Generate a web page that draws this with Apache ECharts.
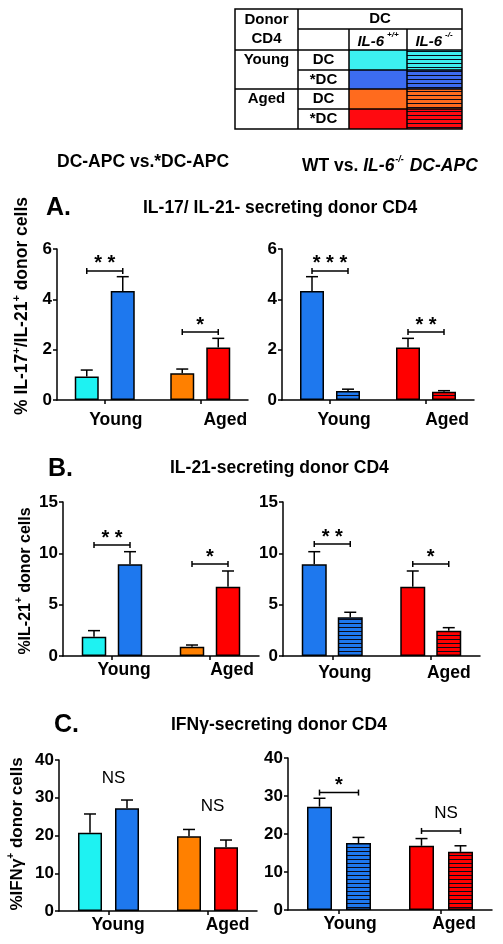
<!DOCTYPE html>
<html><head><meta charset="utf-8">
<script src="https://cdn.jsdelivr.net/npm/echarts@6/dist/echarts.min.js"></script>
<style>html,body{margin:0;padding:0;background:#fff}#c{width:503px;height:944px}</style>
</head><body><div id="c"></div>
<script>
// ---------------- DATA ----------------
const categories = ['Young', 'Aged'];
const yTicksA = [0, 2, 4, 6];
const yTicksB = [0, 5, 10, 15];
const yTicksC = [0, 10, 20, 30, 40];
// A: % IL-17+/IL-21+ donor cells
const aDC = [0.93, 1.06],      aDCsem = [0.26, 0.17];
const aStarDC = [4.33, 2.09],  aStarDCsem = [0.57, 0.36];
const aKO = [0.36, 0.33],      aKOsem = [0.07, 0.04];
// B: % IL-21+ donor cells
const bDC = [1.88, 0.91],      bDCsem = [0.59, 0.16];
const bStarDC = [8.93, 6.75],  bStarDCsem = [1.23, 1.53];
const bKO = [3.77, 2.47],      bKOsem = [0.49, 0.29];
// C: % IFNγ+ donor cells
const cDC = [20.7, 19.8],      cDCsem = [5.0, 1.8];
const cStarDC = [27.2, 16.9],  cStarDCsem = [2.2, 1.9];
const cKO = [17.6, 15.3],      cKOsem = [1.5, 1.6];
// significance labels and bracket levels (data units)
const aSigL = ['* *', '*'],     aSigLlevel = [5.13, 2.70];
const aSigR = ['* * *', '* *'], aSigRlevel = [5.13, 2.70];
const bSigL = ['* *', '*'],     bSigLlevel = [10.81, 8.96];
const bSigR = ['* *', '*'],     bSigRlevel = [10.9, 8.96];
const cSigL = ['NS', 'NS'],     cSigLlevel = [35.2, 27.6];
const cSigR = ['*', 'NS'],      cSigRlevel = [30.9, 20.8];

// ---------------- STYLE ----------------
const FONT = '"Liberation Sans", Arial, Helvetica, sans-serif';
const C_CYAN = '#1EF2F2', C_BLUE = '#1E78EE', C_ORANGE = '#FF8000', C_RED = '#FF0000';
const L_CYAN = '#3CF0F0', L_BLUE = '#3C6CF0', L_ORANGE = '#FF6B1E', L_RED = '#FF0A10';

function stripes(color) {
  const c = document.createElement('canvas');
  c.width = 8; c.height = 4;
  const g = c.getContext('2d');
  g.fillStyle = color; g.fillRect(0, 0, 8, 4);
  g.fillStyle = '#0a0a18'; g.fillRect(0, 3, 8, 1);
  return { image: c, repeat: 'repeat' };
}

const panels = [
  { L: {left:57, top:249, width:191, height:151, barW:24, gap:12, labelOff:[11,25], labelMargin:11}, ticks: yTicksA,
    series: [{vals:aDC, sem:aDCsem, colors:[C_CYAN, C_ORANGE]}, {vals:aStarDC, sem:aStarDCsem, colors:[C_BLUE, C_RED]}],
    sig: {labels:aSigL, levels:aSigLlevel, bracket:[true,true]} },
  { L: {left:282, top:249, width:192, height:151, barW:24, gap:12, labelOff:[14,21], labelMargin:11}, ticks: yTicksA,
    series: [{vals:aStarDC, sem:aStarDCsem, colors:[C_BLUE, C_RED]}, {vals:aKO, sem:aKOsem, colors:[stripes(C_BLUE), stripes(C_RED)]}],
    sig: {labels:aSigR, levels:aSigRlevel, bracket:[true,true]} },
  { L: {left:63, top:502, width:196, height:154, barW:24.5, gap:11.5, labelOff:[12,22], labelMargin:5}, ticks: yTicksB,
    series: [{vals:bDC, sem:bDCsem, colors:[C_CYAN, C_ORANGE]}, {vals:bStarDC, sem:bStarDCsem, colors:[C_BLUE, C_RED]}],
    sig: {labels:bSigL, levels:bSigLlevel, bracket:[true,true]} },
  { L: {left:283, top:502, width:197, height:154, barW:25, gap:11, labelOff:[12.5,18], labelMargin:8}, ticks: yTicksB,
    series: [{vals:bStarDC, sem:bStarDCsem, colors:[C_BLUE, C_RED]}, {vals:bKO, sem:bKOsem, colors:[stripes(C_BLUE), stripes(C_RED)]}],
    sig: {labels:bSigR, levels:bSigRlevel, bracket:[true,true]} },
  { L: {left:59, top:760, width:198, height:151, barW:24, gap:13, labelOff:[9.5,20], labelMargin:5}, ticks: yTicksC,
    series: [{vals:cDC, sem:cDCsem, colors:[C_CYAN, C_ORANGE]}, {vals:cStarDC, sem:cStarDCsem, colors:[C_BLUE, C_RED]}],
    sig: {labels:cSigL, levels:cSigLlevel, bracket:[false,false]} },
  { L: {left:288, top:758, width:204, height:152, barW:25, gap:14, labelOff:[11,13], labelMargin:5}, ticks: yTicksC,
    series: [{vals:cStarDC, sem:cStarDCsem, colors:[C_BLUE, C_RED]}, {vals:cKO, sem:cKOsem, colors:[stripes(C_BLUE), stripes(C_RED)]}],
    sig: {labels:cSigR, levels:cSigRlevel, bracket:[true,true]} },
];

function ln(x1, y1, x2, y2) {
  return {type:'line', shape:{x1, y1, x2, y2}, style:{stroke:'#000', lineWidth:1.5}};
}

const grid = [], xAxis = [], yAxis = [], series = [];
panels.forEach((p, i) => {
  const L = p.L;
  grid.push({left:L.left, top:L.top, width:L.width, height:L.height, containLabel:false, outerBoundsMode:'none'});
  const rich = {};
  L.labelOff.forEach((o, k) => {
    rich['c' + k] = {fontFamily:FONT, fontWeight:'bold', fontSize:17.5, color:'#000', padding:[0,0,0,2*o]};
  });
  xAxis.push({type:'category', gridIndex:i, data:categories, boundaryGap:true,
    axisLine:{show:true, lineStyle:{color:'#000', width:1.5}},
    axisTick:{show:true, alignWithLabel:true, length:4, lineStyle:{color:'#000', width:1.5}},
    splitLine:{show:false},
    axisLabel:{interval:0, margin:L.labelMargin, formatter:(v, idx) => `{c${idx}|${v}}`, rich}});
  const t = p.ticks;
  yAxis.push({type:'value', gridIndex:i, min:t[0], max:t[t.length-1], interval:t[1]-t[0],
    axisLine:{show:true, lineStyle:{color:'#000', width:1.5}},
    axisTick:{show:true, length:4, lineStyle:{color:'#000', width:1.5}},
    splitLine:{show:false},
    axisLabel:{margin:5, color:'#000', fontWeight:'bold', fontSize:17, fontFamily:FONT}});
  p.series.forEach((s, si) => {
    series.push({type:'bar', xAxisIndex:i, yAxisIndex:i, barWidth:L.barW, barGap:(L.gap/L.barW*100)+'%',
      silent:true, z:2,
      itemStyle:{borderColor:'#000', borderWidth:1.5},
      data:s.vals.map((v, k) => ({value:v, itemStyle:{color:s.colors[k]}}))});
    const off = (si === 0 ? -1 : 1) * (L.barW + L.gap) / 2;
    series.push({type:'custom', xAxisIndex:i, yAxisIndex:i, z:5, silent:true,
      data:s.vals.map((v, k) => [k, v, s.sem[k]]),
      renderItem:(params, api) => {
        const b = api.coord([api.value(0), api.value(1)]);
        const tp = api.coord([api.value(0), api.value(1) + api.value(2)]);
        const x = b[0] + off;
        return {type:'group', children:[ln(x, b[1], x, tp[1]), ln(x-6, tp[1], x+6, tp[1])]};
      }});
  });
  const sg = p.sig;
  const off = (L.barW + L.gap) / 2;
  series.push({type:'custom', xAxisIndex:i, yAxisIndex:i, z:6, silent:true,
    data:sg.levels.map((lv, k) => [k, lv]),
    renderItem:(params, api) => {
      const c = api.coord([api.value(0), api.value(1)]);
      const txt = sg.labels[params.dataIndex];
      const ns = txt === 'NS';
      const ch = [];
      let ty = c[1];
      if (sg.bracket[params.dataIndex]) {
        ch.push(ln(c[0]-off, c[1], c[0]+off, c[1]), ln(c[0]-off, c[1]-3, c[0]-off, c[1]+3), ln(c[0]+off, c[1]-3, c[0]+off, c[1]+3));
        ty = c[1] - (ns ? 18 : 7);
      }
      ch.push({type:'text', x:c[0] + (ns ? 5 : 0), y:ty,
        style:{text:txt, fill:'#000', align:'center', verticalAlign:'middle', fontFamily:FONT,
               fontSize:ns ? 17 : 20, fontWeight:ns ? 'normal' : 'bold'}});
      return {type:'group', children:ch};
    }});
});

// ---------------- GRAPHIC TEXT & LEGEND TABLE ----------------
const gfx = [];
function txt(x, y, text, opts) {
  gfx.push(Object.assign({type:'text', x, y, silent:true,
    style:Object.assign({text, fill:'#000', fontFamily:FONT, fontWeight:'bold', fontSize:17.5, align:'left', verticalAlign:'middle'}, opts && opts.style)},
    opts && opts.el));
}
const supStyle = {fontFamily:FONT, fontWeight:'bold', fontSize:10, verticalAlign:'top', lineHeight:20, fill:'#000'};
// headers
txt(57, 162, 'DC-APC vs.*DC-APC');
txt(302, 165, '{n|WT vs. }{i|IL-6}{s|-/-}{i| DC-APC}', {style:{rich:{
  n:{fontFamily:FONT, fontWeight:'bold', fontSize:17.5, lineHeight:20, verticalAlign:'bottom'},
  i:{fontFamily:FONT, fontWeight:'bold', fontStyle:'italic', fontSize:17.5, lineHeight:20, verticalAlign:'bottom'},
  s:Object.assign({}, supStyle, {fontStyle:'italic', fontSize:9, padding:[0,1,0,1]})}}});
// panel letters and titles
txt(46, 208, 'A.', {style:{fontSize:25}});
txt(143, 208, 'IL-17/ IL-21- secreting donor CD4');
txt(48, 469, 'B.', {style:{fontSize:25}});
txt(170, 468, 'IL-21-secreting donor CD4');
txt(54, 725, 'C.', {style:{fontSize:25}});
txt(171, 725, 'IFNγ-secreting donor CD4');
// y-axis titles
const yRich = (fs) => ({
  m:{fontFamily:FONT, fontWeight:'bold', fontSize:fs, lineHeight:20, verticalAlign:'bottom'},
  s:Object.assign({}, supStyle, {fontSize:Math.round(fs*0.6)})});
txt(21, 306, '{m|% IL-17}{s|+}{m|/IL-21}{s|+}{m| donor cells}', {style:{align:'center', rich:yRich(17.5)}, el:{rotation:Math.PI/2}});
txt(24, 581, '{m|%IL-21}{s|+}{m| donor cells}', {style:{align:'center', rich:yRich(16)}, el:{rotation:Math.PI/2}});
txt(16, 834, '{m|%IFNγ}{s|+}{m| donor cells}', {style:{align:'center', rich:yRich(17)}, el:{rotation:Math.PI/2}});

// legend table
const TX = [235, 298, 349, 407, 462];
const TY = [9, 29, 50, 70, 89, 109, 129];
const legendFill = [
  [L_CYAN, stripes(L_CYAN)], [L_BLUE, stripes(L_BLUE)],
  [L_ORANGE, stripes(L_ORANGE)], [L_RED, stripes(L_RED)]];
legendFill.forEach((f, r) => {
  gfx.push({type:'rect', silent:true, shape:{x:TX[2], y:TY[r+2], width:TX[3]-TX[2], height:TY[r+3]-TY[r+2]}, style:{fill:f[0]}});
  gfx.push({type:'rect', silent:true, shape:{x:TX[3], y:TY[r+2], width:TX[4]-TX[3], height:TY[r+3]-TY[r+2]}, style:{fill:f[1]}});
});
const tl = (x1, y1, x2, y2) => gfx.push(Object.assign(ln(x1, y1, x2, y2), {silent:true}));
gfx.push({type:'rect', silent:true, shape:{x:TX[0], y:TY[0], width:TX[4]-TX[0], height:TY[6]-TY[0]}, style:{fill:'none', stroke:'#000', lineWidth:1.5}});
tl(TX[1], TY[0], TX[1], TY[6]);
tl(TX[2], TY[1], TX[2], TY[6]);
tl(TX[3], TY[1], TX[3], TY[6]);
tl(TX[1], TY[1], TX[4], TY[1]);
tl(TX[0], TY[2], TX[4], TY[2]);
tl(TX[1], TY[3], TX[4], TY[3]);
tl(TX[0], TY[4], TX[4], TY[4]);
tl(TX[1], TY[5], TX[4], TY[5]);
const ts = {align:'center', fontSize:15};
txt(266.5, 20, 'Donor', {style:ts});
txt(266.5, 39, 'CD4', {style:ts});
txt(380, 19, 'DC', {style:ts});
const legRich = {
  i:{fontFamily:FONT, fontWeight:'bold', fontStyle:'italic', fontSize:15, lineHeight:18, verticalAlign:'bottom'},
  s:Object.assign({}, supStyle, {fontStyle:'italic', fontSize:8, lineHeight:18, padding:[0,0,0,3]})};
txt(378, 40, '{i|IL-6}{s|+/+}', {style:{align:'center', rich:legRich}});
txt(434, 40, '{i|IL-6}{s|-/-}', {style:{align:'center', rich:legRich}});
txt(266.5, 60, 'Young', {style:ts});
txt(323.5, 60, 'DC', {style:ts});
txt(323.5, 80, '*DC', {style:ts});
txt(266.5, 99, 'Aged', {style:ts});
txt(323.5, 99, 'DC', {style:ts});
txt(323.5, 119, '*DC', {style:ts});

const chart = echarts.init(document.getElementById('c'), null, {renderer:'canvas', width:503, height:944});
chart.setOption({
  animation:false,
  backgroundColor:'#fff',
  grid, xAxis, yAxis, series,
  graphic:{elements:gfx}
});
</script>
</body></html>
